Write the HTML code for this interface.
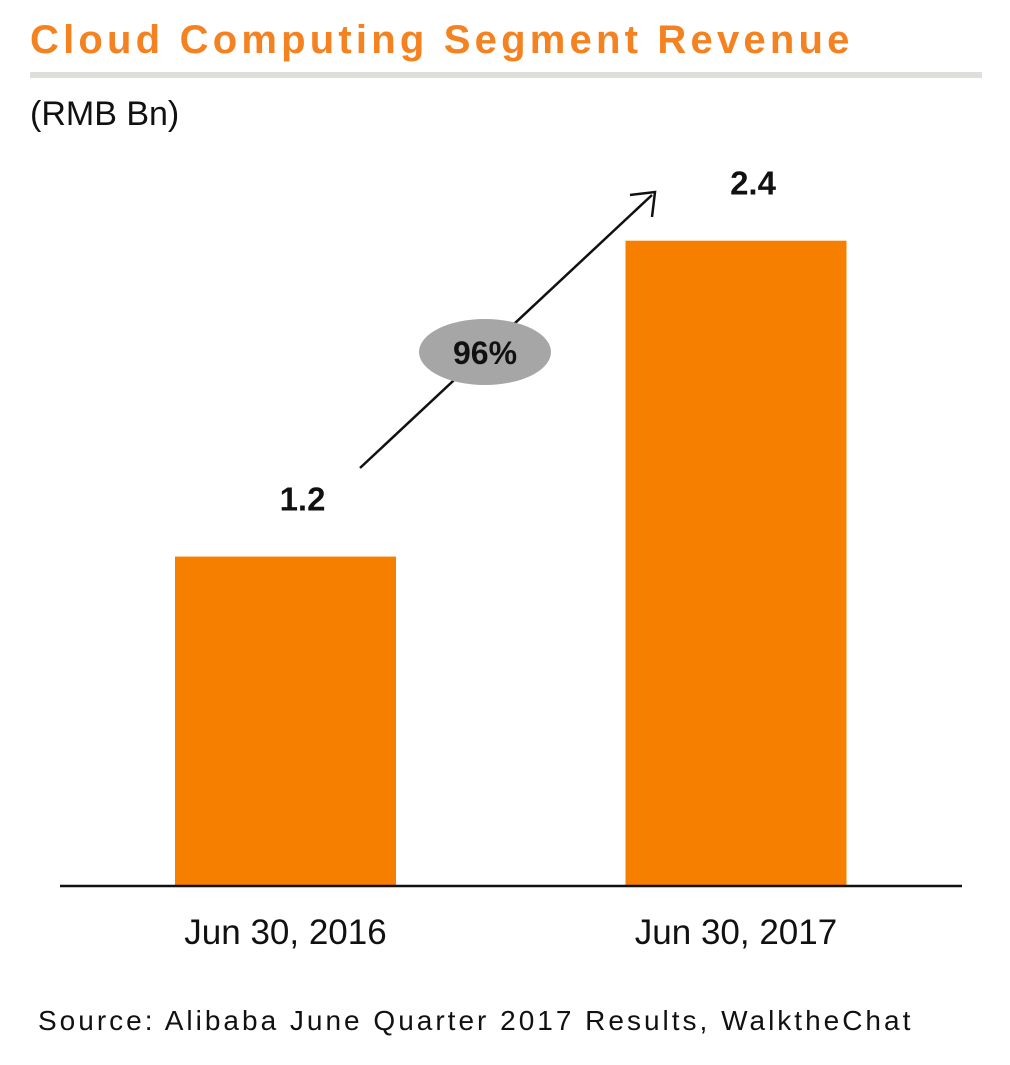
<!DOCTYPE html>
<html><head><meta charset="utf-8"><style>
html,body{margin:0;padding:0;background:#fff;}
body{width:1010px;height:1060px;position:relative;overflow:hidden;font-family:"Liberation Sans",sans-serif;}
</style></head><body>
<svg width="1010" height="1060" viewBox="0 0 1010 1060" xmlns="http://www.w3.org/2000/svg">
<text x="30" y="53" font-family="Liberation Sans, sans-serif" font-weight="bold" font-size="40" fill="#f58220" letter-spacing="4.2">Cloud Computing Segment Revenue</text>
<rect x="30" y="72" width="952" height="6" fill="#e0dedb"/>
<text x="30" y="125" font-family="Liberation Sans, sans-serif" font-size="34" fill="#111">(RMB Bn)</text>
<g id="bars"></g>
<line x1="60" y1="886" x2="962" y2="886" stroke="#111" stroke-width="2.5"/>
<line x1="360" y1="468" x2="652" y2="195" stroke="#111" stroke-width="2.5"/>
<polyline points="630,195 655,192 652,217" fill="none" stroke="#111" stroke-width="2.5"/>
<ellipse cx="485" cy="352" rx="66" ry="33" fill="#a6a6a6"/>
<text x="485" y="364" text-anchor="middle" font-family="Liberation Sans, sans-serif" font-weight="bold" font-size="32" fill="#111">96%</text>
<text x="38" y="1030" font-family="Liberation Sans, sans-serif" font-size="28" fill="#111" letter-spacing="3">Source: Alibaba June Quarter 2017 Results, WalktheChat</text>
</svg>
<script>
const categories = ["Jun 30, 2016", "Jun 30, 2017"];
const values = [1.22, 2.39];
const valueLabels = ["1.2", "2.4"];
const baseY = 886, scale = 270, barW = 221;
const centers = [285.5, 736];
function yPos(v){ return baseY - v*scale; }
const g = document.getElementById('bars');
const ns = "http://www.w3.org/2000/svg";
categories.forEach((c,i)=>{
  const r = document.createElementNS(ns,'rect');
  r.setAttribute('x', centers[i]-barW/2);
  r.setAttribute('y', yPos(values[i]));
  r.setAttribute('width', barW);
  r.setAttribute('height', baseY - yPos(values[i]));
  r.setAttribute('fill', '#f77f00');
  
  
  g.appendChild(r);
  const t = document.createElementNS(ns,'text');
  t.setAttribute('x', centers[i]+17);
  t.setAttribute('y', yPos(values[i]) - 46);
  t.setAttribute('text-anchor','middle');
  t.setAttribute('font-family','Liberation Sans, sans-serif');
  t.setAttribute('font-weight','bold');
  t.setAttribute('font-size','33');
  t.setAttribute('fill','#111');
  t.textContent = valueLabels[i];
  
  
  g.appendChild(t);
  const l = document.createElementNS(ns,'text');
  l.setAttribute('x', centers[i]);
  l.setAttribute('y', 944);
  l.setAttribute('text-anchor','middle');
  l.setAttribute('font-family','Liberation Sans, sans-serif');
  l.setAttribute('font-size','35');
  l.setAttribute('fill','#111');
  l.textContent = c;
  
  
  g.appendChild(l);
});
</script>
</body></html>
